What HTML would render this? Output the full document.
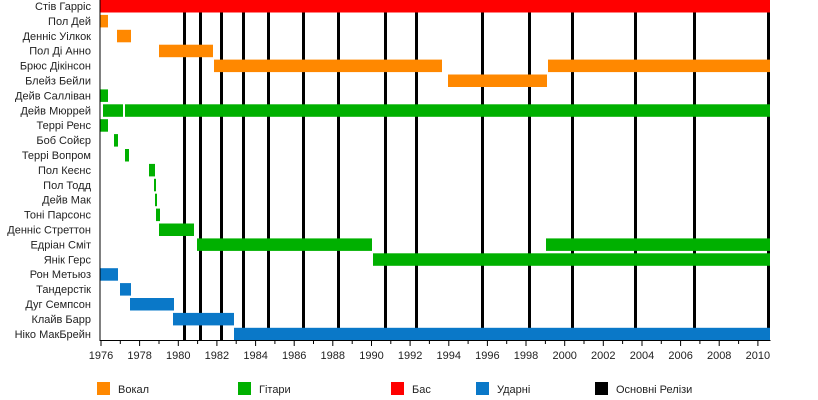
<!DOCTYPE html>
<html><head><meta charset="utf-8"><style>body{margin:0;background:#fff}svg{display:block}text{font-family:"Liberation Sans",sans-serif;font-size:11px;fill:#222}</style></head><body>
<svg width="818" height="400" xmlns="http://www.w3.org/2000/svg">
<g fill="#000">
<rect x="183" y="12" width="3" height="328"/><rect x="199" y="12" width="3" height="328"/><rect x="220" y="12" width="3" height="328"/><rect x="242" y="12" width="3" height="328"/><rect x="267" y="12" width="3" height="328"/><rect x="302" y="12" width="3" height="328"/><rect x="337" y="12" width="3" height="328"/><rect x="384" y="12" width="3" height="328"/><rect x="415" y="12" width="3" height="328"/><rect x="481" y="12" width="3" height="328"/><rect x="528" y="12" width="3" height="328"/><rect x="571" y="12" width="3" height="328"/><rect x="634" y="12" width="3" height="328"/><rect x="693" y="12" width="3" height="328"/><rect x="767" y="12" width="3" height="328"/>
</g>
<rect x="100" y="0" width="670" height="12.5" fill="#ff0000"/>
<g fill="#ff8800">
<rect x="100" y="14.9" width="8" height="12.5"/><rect x="117" y="29.8" width="14" height="12.5"/><rect x="159" y="44.7" width="54" height="12.5"/><rect x="214" y="59.6" width="228" height="12.5"/><rect x="548" y="59.6" width="222" height="12.5"/><rect x="448" y="74.5" width="99" height="12.5"/>
</g>
<g fill="#00b000">
<rect x="100" y="89.4" width="8" height="12.5"/><rect x="103" y="104.3" width="20" height="12.5"/><rect x="125" y="104.3" width="645" height="12.5"/><rect x="100" y="119.2" width="8" height="12.5"/><rect x="114" y="134.1" width="4" height="12.5"/><rect x="125" y="149" width="4" height="12.5"/><rect x="149" y="163.9" width="6" height="12.5"/><rect x="154" y="178.8" width="2" height="12.5"/><rect x="155" y="193.7" width="2" height="12.5"/><rect x="156" y="208.6" width="4" height="12.5"/><rect x="159" y="223.5" width="35" height="12.5"/><rect x="197" y="238.4" width="175" height="12.5"/><rect x="546" y="238.4" width="224" height="12.5"/><rect x="373" y="253.3" width="397" height="12.5"/>
</g>
<g fill="#0a78c8">
<rect x="100" y="268.2" width="18" height="12.5"/><rect x="120" y="283.1" width="11" height="12.5"/><rect x="130" y="298" width="44" height="12.5"/><rect x="173" y="312.9" width="61" height="12.5"/><rect x="234" y="327.8" width="536" height="12.5"/>
</g>
<rect x="99.5" y="0" width="1" height="341" fill="#000"/>
<rect x="99.5" y="340" width="671" height="1" fill="#000"/>
<g stroke="#000" stroke-width="1">
<path d="M101 340v6M120.3 340v4M139.6 340v6M159 340v4M178.3 340v6M197.6 340v4M216.9 340v6M236.2 340v4M255.6 340v6M274.9 340v4M294.2 340v6M313.5 340v4M332.8 340v6M352.2 340v4M371.5 340v6M390.8 340v4M410.1 340v6M429.4 340v4M448.8 340v6M468.1 340v4M487.4 340v6M506.7 340v4M526 340v6M545.4 340v4M564.7 340v6M584 340v4M603.3 340v6M622.6 340v4M642 340v6M661.3 340v4M680.6 340v6M699.9 340v4M719.2 340v6M738.6 340v4M757.9 340v6"/>
</g>
<g text-anchor="middle">
<text x="101" y="359">1976</text><text x="139.6" y="359">1978</text><text x="178.3" y="359">1980</text><text x="216.9" y="359">1982</text><text x="255.6" y="359">1984</text><text x="294.2" y="359">1986</text><text x="332.8" y="359">1988</text><text x="371.5" y="359">1990</text><text x="410.1" y="359">1992</text><text x="448.8" y="359">1994</text><text x="487.4" y="359">1996</text><text x="526" y="359">1998</text><text x="564.7" y="359">2000</text><text x="603.3" y="359">2002</text><text x="642" y="359">2004</text><text x="680.6" y="359">2006</text><text x="719.2" y="359">2008</text><text x="757.9" y="359">2010</text>
</g>
<g text-anchor="end">
<text x="91" y="10">Стів Гарріс</text><text x="91" y="24.9">Пол Дей</text><text x="91" y="39.8">Денніс Уілкок</text><text x="91" y="54.7">Пол Ді Анно</text><text x="91" y="69.6">Брюс Дікінсон</text><text x="91" y="84.5">Блейз Бейли</text><text x="91" y="99.4">Дейв Салліван</text><text x="91" y="114.3">Дейв Мюррей</text><text x="91" y="129.2">Террі Ренс</text><text x="91" y="144.1">Боб Сойєр</text><text x="91" y="159">Террі Вопром</text><text x="91" y="173.9">Пол Кеєнс</text><text x="91" y="188.8">Пол Тодд</text><text x="91" y="203.7">Дейв Мак</text><text x="91" y="218.6">Тоні Парсонс</text><text x="91" y="233.5">Денніс Стреттон</text><text x="91" y="248.4">Едріан Сміт</text><text x="91" y="263.3">Янік Герс</text><text x="91" y="278.2">Рон Метьюз</text><text x="91" y="293.1">Тандерстік</text><text x="91" y="308">Дуг Семпсон</text><text x="91" y="322.9">Клайв Барр</text><text x="91" y="337.8">Ніко МакБрейн</text>
</g>
<rect x="97" y="382" width="13" height="13" fill="#ff8800"/><text x="118" y="393">Вокал</text>
<rect x="238" y="382" width="13" height="13" fill="#00b000"/><text x="259" y="393">Гітари</text>
<rect x="391" y="382" width="13" height="13" fill="#ff0000"/><text x="412" y="393">Бас</text>
<rect x="476" y="382" width="13" height="13" fill="#0a78c8"/><text x="497" y="393">Ударні</text>
<rect x="595" y="382" width="13" height="13" fill="#000"/><text x="616" y="393">Основні Релізи</text>
</svg>
</body></html>
